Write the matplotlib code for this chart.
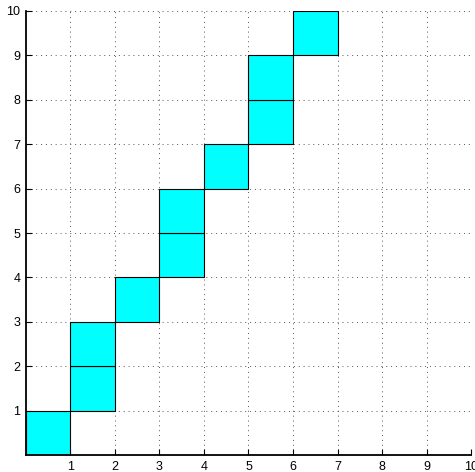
import matplotlib
matplotlib.use("Agg")
import matplotlib.pyplot as plt
from matplotlib.patches import Rectangle

# lower-left corners of the filled unit cells
cell_x = [0, 1, 1, 2, 3, 3, 4, 5, 5, 6]
cell_y = [0, 1, 2, 3, 4, 5, 6, 7, 8, 9]
ticks = [1, 2, 3, 4, 5, 6, 7, 8, 9, 10]

plt.rcParams['font.family'] = ['Liberation Sans', 'DejaVu Sans']

fig = plt.figure(figsize=(4.75, 4.72), dpi=100)
ax = fig.add_axes([0.0547, 0.036, 0.9369, 0.9407])

for x, y in zip(cell_x, cell_y):
    ax.add_patch(Rectangle((x, y), 1, 1, facecolor="#00ffff",
                           edgecolor="black", linewidth=0.8, zorder=2))

ax.set_xlim(0, 10)
ax.set_ylim(0, 10)
ax.set_xticks(ticks)
ax.set_yticks(ticks)
ax.grid(True, linestyle=(0, (1, 4)), color="#555555", linewidth=0.7, zorder=1)
ax.set_axisbelow(True)
ax.tick_params(direction="in", length=4, width=0.8, labelsize=9, pad=4)
ax.spines["top"].set_visible(False)
ax.spines["right"].set_visible(False)
ax.spines["left"].set_linewidth(1.3)
ax.spines["bottom"].set_linewidth(1.3)

fig.savefig("out.png", dpi=100)
